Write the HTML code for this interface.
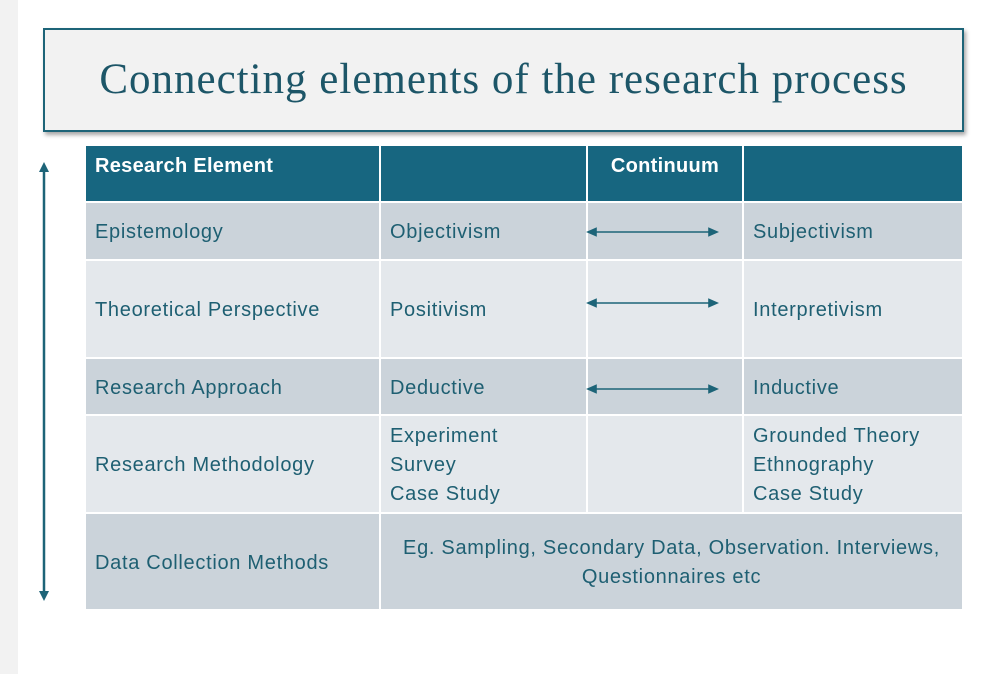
<!DOCTYPE html>
<html><head><style>
*{margin:0;padding:0;box-sizing:border-box}
body{width:988px;height:674px;background:#fff;position:relative;overflow:hidden;font-family:"Liberation Sans","DejaVu Sans",sans-serif}
.strip{position:absolute;left:0;top:0;width:18px;height:674px;background:#f2f2f2}
.title{position:absolute;left:43px;top:28px;width:921px;height:104px;background:#f2f2f2;border:2.5px solid #1d6478;box-shadow:2px 3px 4px rgba(0,0,0,0.35);font-family:"Liberation Serif",serif;font-size:43px;letter-spacing:1px;color:#1d5668;text-align:center;line-height:100px;white-space:nowrap}
.c{position:absolute;font-size:20px;letter-spacing:0.7px;color:#1e5f72;display:flex;align-items:center;padding-left:9px;padding-top:3px;line-height:29px;white-space:nowrap}
.h{background:#176680;color:#fff;font-weight:bold;align-items:flex-start;padding-top:6px;letter-spacing:0.3px}
.d{background:#cbd3da}.l{background:#e4e8ec}
</style></head><body>
<div class="strip"></div>
<div class="title">Connecting elements of the research process</div>
<div class="c h" style="left:86px;top:146px;width:293px;height:55px">Research Element</div>
<div class="c h" style="left:381px;top:146px;width:205px;height:55px"></div>
<div class="c h" style="left:588px;top:146px;width:154px;height:55px;justify-content:center;padding-left:0">Continuum</div>
<div class="c h" style="left:744px;top:146px;width:218px;height:55px"></div>

<div class="c d" style="left:86px;top:203px;width:293px;height:56px">Epistemology</div>
<div class="c d" style="left:381px;top:203px;width:205px;height:56px">Objectivism</div>
<div class="c d" style="left:588px;top:203px;width:154px;height:56px"></div>
<div class="c d" style="left:744px;top:203px;width:218px;height:56px">Subjectivism</div>

<div class="c l" style="left:86px;top:261px;width:293px;height:96px">Theoretical Perspective</div>
<div class="c l" style="left:381px;top:261px;width:205px;height:96px">Positivism</div>
<div class="c l" style="left:588px;top:261px;width:154px;height:96px"></div>
<div class="c l" style="left:744px;top:261px;width:218px;height:96px">Interpretivism</div>

<div class="c d" style="left:86px;top:359px;width:293px;height:55px">Research Approach</div>
<div class="c d" style="left:381px;top:359px;width:205px;height:55px">Deductive</div>
<div class="c d" style="left:588px;top:359px;width:154px;height:55px"></div>
<div class="c d" style="left:744px;top:359px;width:218px;height:55px">Inductive</div>

<div class="c l" style="left:86px;top:416px;width:293px;height:96px">Research Methodology</div>
<div class="c l" style="left:381px;top:416px;width:205px;height:96px">Experiment<br>Survey<br>Case Study</div>
<div class="c l" style="left:588px;top:416px;width:154px;height:96px"></div>
<div class="c l" style="left:744px;top:416px;width:218px;height:96px">Grounded Theory<br>Ethnography<br>Case Study</div>

<div class="c d" style="left:86px;top:514px;width:293px;height:95px">Data Collection Methods</div>
<div class="c d" style="left:381px;top:514px;width:581px;height:95px;justify-content:center;text-align:center;padding-left:0">Eg. Sampling, Secondary Data, Observation. Interviews,<br>Questionnaires etc</div>

<svg width="988" height="674" style="position:absolute;left:0;top:0">
<g stroke="#1d6478" stroke-width="1.6" fill="#1d6478">
<line x1="592" y1="232" x2="713" y2="232"/><polygon points="588,232 596,228.5 596,235.5"/><polygon points="717,232 709,228.5 709,235.5"/>
<line x1="592" y1="303" x2="713" y2="303"/><polygon points="588,303 596,299.5 596,306.5"/><polygon points="717,303 709,299.5 709,306.5"/>
<line x1="592" y1="389" x2="713" y2="389"/><polygon points="588,389 596,385.5 596,392.5"/><polygon points="717,389 709,385.5 709,392.5"/>
<line x1="44" y1="168" x2="44" y2="594" stroke-width="2.5"/><polygon points="44,162 39,172 49,172" stroke="none"/><polygon points="44,601 39,591 49,591" stroke="none"/>
</g></svg>
</body></html>
